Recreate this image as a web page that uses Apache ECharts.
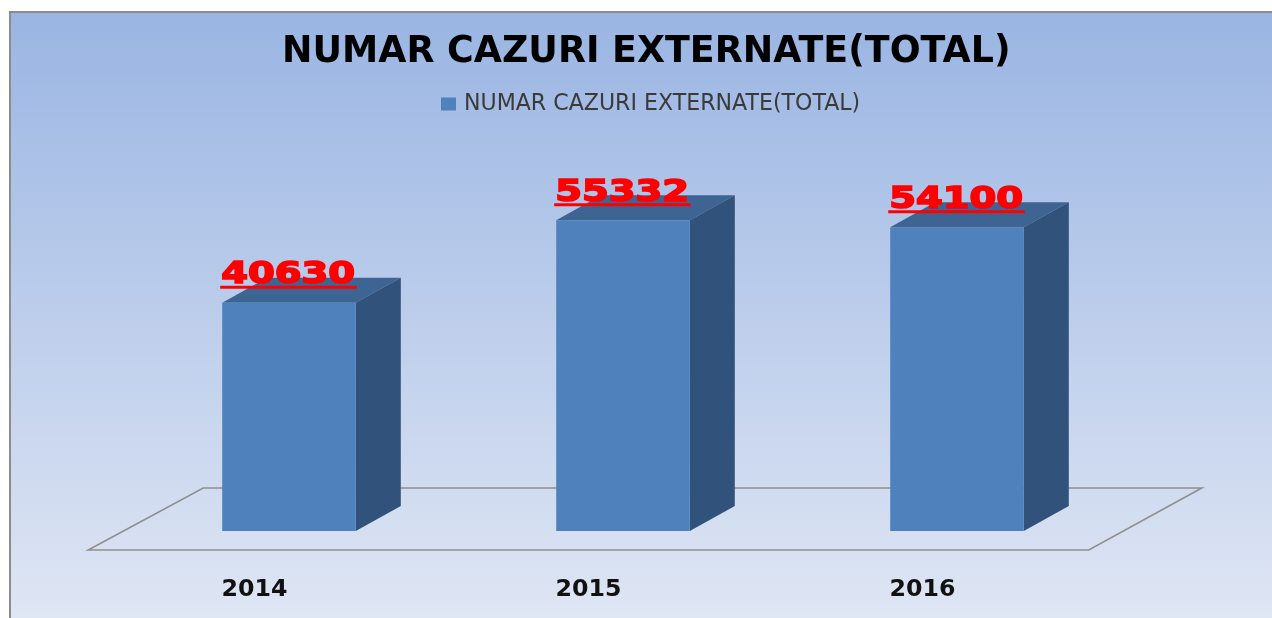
<!DOCTYPE html>
<html><head><meta charset="utf-8">
<style>html,body{margin:0;padding:0;background:#fff}#c{width:1272px;height:618px}</style>
<script src="https://cdn.jsdelivr.net/npm/echarts@6/dist/echarts.min.js"></script>
</head><body><div id="c"></div>
<script>
const titleText = 'NUMAR CAZURI EXTERNATE(TOTAL)';
const seriesName = 'NUMAR CAZURI EXTERNATE(TOTAL)';
const categories = ['2014', '2015', '2016'];
const values = [40630, 55332, 54100];

const DX = 45, DY = -25;
const chart = echarts.init(document.getElementById('c'), null, {renderer: 'canvas'});

function floorItem(params, api) {
  const a = api.coord([0, 0]), b = api.coord([2, 0]);
  const off = api.size([1, 0])[0] * 0.4 / 2;
  const y1 = a[1] + 19, y0 = a[1] - 43;
  return {type: 'polygon', silent: true,
    shape: {points: [[a[0] - off - 134, y1], [b[0] + off + 65, y1], [b[0] + off + 178, y0], [a[0] - off - 19, y0]]},
    style: {fill: 'rgba(255,255,255,0.0)', stroke: '#8f8f8f', lineWidth: 1.6}};
}

function barItem(params, api) {
  const i = api.value(0), v = api.value(1);
  const p = api.coord([i, v]), b = api.coord([i, 0]);
  const w = api.size([1, 0])[0] * 0.4;
  const l = p[0] - w / 2, r = p[0] + w / 2, t = p[1], bt = b[1];
  return {type: 'group', children: [
    {type: 'polygon', shape: {points: [[l, t], [r, t], [r + DX, t + DY], [l + DX, t + DY]]}, style: {fill: '#3e6494'}},
    {type: 'polygon', shape: {points: [[r, t], [r + DX, t + DY], [r + DX, bt + DY], [r, bt]]}, style: {fill: '#31527a'}},
    {type: 'rect', shape: {x: l, y: t, width: w, height: bt - t}, style: {fill: '#4f81bd'}},
    {type: 'rect', shape: {x: l - 2, y: t - 17, width: w + 3, height: 3}, style: {fill: '#ff0000'}},
    {type: 'text', x: l - 1, y: t - 43, scaleX: 1.24, z2: 5,
      style: {text: String(v), fontFamily: 'DejaVu Sans', fontWeight: 'bold', fontSize: 31,
        fill: '#ff0000', stroke: '#ff0000', lineWidth: 1.7, align: 'left', verticalAlign: 'top'}}
  ]};
}

chart.setOption({
  animation: false,
  graphic: [{
    type: 'rect', z: -10, silent: true,
    shape: {x: 10, y: 12, width: 1300, height: 640},
    style: {
      fill: new echarts.graphic.LinearGradient(0, 0, 0, 0.945, [
        {offset: 0, color: '#9ab5e3'}, {offset: 1, color: '#dfe6f4'}]),
      stroke: '#8c8c8c', lineWidth: 2
    }
  }],
  title: {
    text: titleText, left: 277, top: 30,
    textStyle: {fontFamily: 'DejaVu Sans', fontWeight: 'bold', fontSize: 36.4, color: '#000'}
  },
  legend: {
    left: 436, top: 88, itemWidth: 15, itemHeight: 13, itemGap: 8, icon: 'rect',
    textStyle: {fontFamily: 'DejaVu Sans', fontSize: 22.1, color: '#3a3a3a', padding: [0, 0, 0, 3]},
    data: [seriesName]
  },
  grid: {left: 122, width: 1002, top: 194, height: 337},
  xAxis: {
    type: 'category', data: categories,
    axisLine: {show: false}, axisTick: {show: false},
    axisLabel: {margin: 47, padding: [0, 69, 0, 0], fontFamily: 'DejaVu Sans', fontWeight: 'bold', fontSize: 23.7, color: '#111'}
  },
  yAxis: {type: 'value', min: 0, max: 60000, show: false, splitLine: {show: false}},
  series: [
    {type: 'custom', silent: true, renderItem: floorItem, data: [[0, 0]], encode: {x: 0, y: 1}, z: 1, name: 'floor'},
    {type: 'custom', name: seriesName, renderItem: barItem, z: 2,
      itemStyle: {color: '#4f81bd'},
      data: values.map((v, i) => [i, v]), encode: {x: 0, y: 1}}
  ]
});
</script></body></html>
